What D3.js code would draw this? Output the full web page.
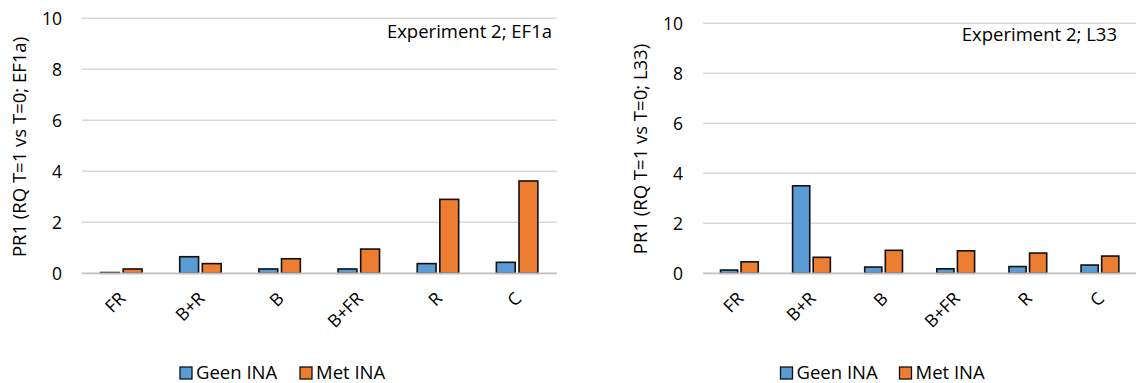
<!DOCTYPE html>
<html><head><meta charset="utf-8">
<script src="https://cdn.jsdelivr.net/npm/d3@7"></script>
<style>
html,body{margin:0;padding:0;background:#fff;}
svg{display:block;font-family:"Open Sans",sans-serif;}
</style></head>
<body>
<svg id="chart" width="1137" height="383"></svg>
<script>
const categories = ["FR","B+R","B","B+FR","R","C"];
const seriesNames = ["Geen INA","Met INA"];
const leftGeen = [0.03,0.65,0.17,0.17,0.38,0.43];
const leftMet  = [0.17,0.38,0.57,0.95,2.9,3.62];
const rightGeen = [0.13,3.5,0.25,0.18,0.27,0.33];
const rightMet  = [0.46,0.64,0.92,0.9,0.81,0.69];
const yTicks = [0,2,4,6,8,10];
const leftTitle = "PR1 (RQ T=1 vs T=0; EF1a)";
const rightTitle = "PR1 (RQ T=1 vs T=0; L33)";
const leftNote = "Experiment 2; EF1a";
const rightNote = "Experiment 2; L33";

const colors = ["#5B9BD5","#ED7D31"];
const txt = "#000";
const svg = d3.select("#chart");

function panel(o){
  const g = svg.append("g");
  const x = d3.scaleBand().domain(categories).range([o.x0,o.x1]).padding(0);
  const y = d3.scaleLinear().domain([0,10]).range([o.yb,o.yt]);
  g.selectAll("line.grid").data(yTicks.filter(d=>d>0)).join("line")
    .attr("x1",o.x0).attr("x2",o.x1)
    .attr("y1",d=>y(d)).attr("y2",d=>y(d))
    .attr("stroke","#d9d9d9").attr("stroke-width",1.5);
  g.selectAll("text.yt").data(yTicks).join("text")
    .attr("x",o.tickX).attr("y",d=>y(d)).attr("dy","0.36em")
    .attr("text-anchor","end").attr("fill",txt).style("font-size","17.5px")
    .text(d=>d);
  const w = x.bandwidth()/4.2;
  const series = [o.geen,o.met];
  series.forEach((vals,si)=>{
    g.selectAll("rect.s"+si).data(categories.map((c,i)=>({c,v:vals[i]}))).join("rect")
      .attr("x",d=>{const cx=x(d.c)+x.bandwidth()/2; return si===0? cx-1.1*w : cx+0.1*w;})
      .attr("y",d=>y(d.v)).attr("width",w).attr("height",d=>y(0)-y(d.v))
      .attr("fill",colors[si]).attr("stroke","#111").attr("stroke-width",1.6);
  });
  g.append("line").attr("x1",o.x0).attr("x2",o.x1).attr("y1",y(0)).attr("y2",y(0))
    .attr("stroke","#bfbfbf").attr("stroke-width",1.8);
  g.selectAll("text.xl").data(categories).join("text")
    .attr("transform",d=>`translate(${x(d)+x.bandwidth()/2+1},${y(0)+22}) rotate(-45)`)
    .attr("text-anchor","end").attr("dy","0.35em").attr("fill",txt).style("font-size","17.5px")
    .text(d=>d);
  g.append("text").attr("transform",`translate(${o.titleX},${o.titleY}) rotate(-90)`)
    .attr("text-anchor","middle").attr("dy","0.35em").attr("fill",txt).style("font-size","18.5px")
    .text(o.title);
  g.append("text").attr("x",o.noteX).attr("y",o.noteY).attr("dy","0.35em")
    .attr("text-anchor","end").attr("fill",txt).style("font-size","18.5px").text(o.note);
  const lg = g.append("g");
  seriesNames.forEach((n,i)=>{
    lg.append("rect").attr("x",o.legX[i]).attr("y",o.legY-6).attr("width",12).attr("height",12)
      .attr("fill",colors[i]).attr("stroke","#111").attr("stroke-width",1.3);
    lg.append("text").attr("x",o.legX[i]+16).attr("y",o.legY).attr("dy","0.35em")
      .attr("fill",txt).style("font-size","18.5px").text(n);
  });
}

panel({x0:81.7,x1:556.7,yt:18.3,yb:273.3,tickX:62,geen:leftGeen,met:leftMet,
  title:leftTitle,titleX:20,titleY:147,note:leftNote,noteX:552,noteY:32,legX:[180,300],legY:373});
panel({x0:703.3,x1:1136,yt:23.3,yb:273.3,tickX:683,geen:rightGeen,met:rightMet,
  title:rightTitle,titleX:641,titleY:149,note:rightNote,noteX:1117,noteY:35,legX:[780.5,899.5],legY:373});
</script>
</body></html>
